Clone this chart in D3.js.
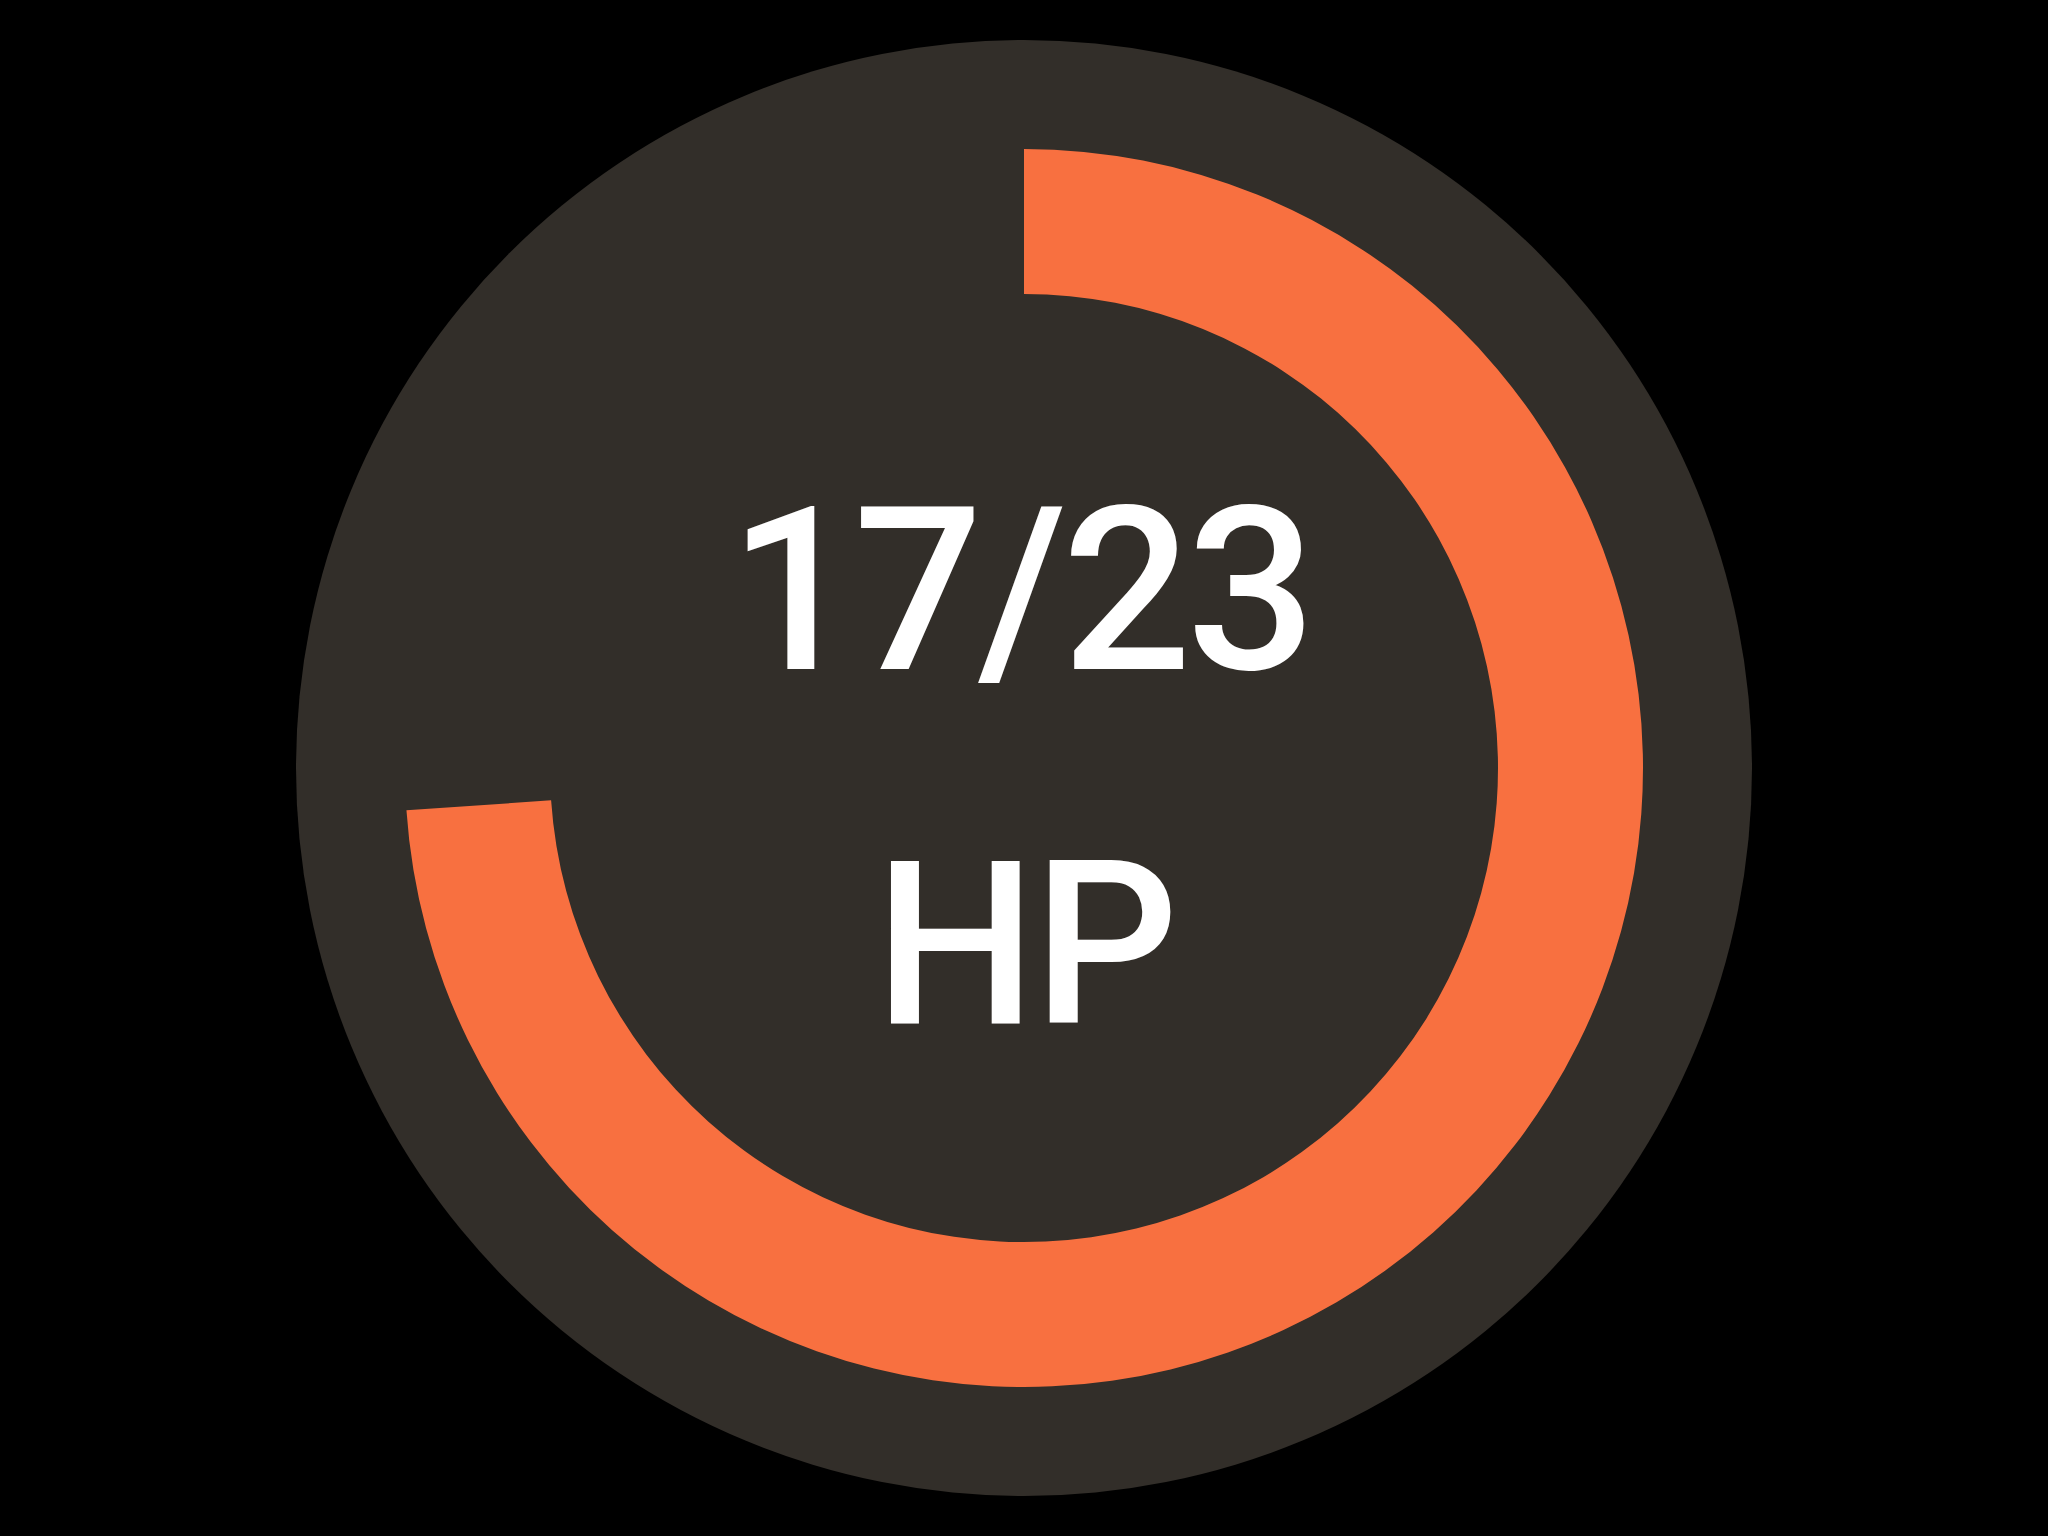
<!DOCTYPE html>
<html>
<head>
<meta charset="utf-8">
<script src="https://cdn.jsdelivr.net/npm/d3@7"></script>
<style>
  html, body { margin: 0; padding: 0; background: #000; }
  svg { display: block; }
</style>
</head>
<body>
<div id="chartDiv"></div>
<script>
// gauge values
var current = [17];
var maximum = [23];
var unitLabel = ["HP"];

;(function() {

	var width = 2048;
	var height = 1536;
	var cx = 1024, cy = 768;

	var discRadius = 728;
	var outerRadius = 619;
	var innerRadius = 474;

	var chart = d3.select("#chartDiv").append("svg")
		.attr("width", width)
		.attr("height", height)
		.style("background", "#000");

	var g = chart.append("g")
		.attr("transform", "translate(" + cx + "," + cy + ")");

	// background disc
	g.append("circle")
		.attr("r", discRadius)
		.attr("fill", "#322e29");

	var angle = d3.scaleLinear()
		.domain([0, maximum[0]])
		.range([0, 2 * Math.PI]);

	var arc = d3.arc()
		.innerRadius(innerRadius)
		.outerRadius(outerRadius)
		.startAngle(0);

	g.selectAll(".value-arc")
		.data(current)
		.enter().append("path")
			.attr("class", "value-arc")
			.attr("d", function(d) { return arc({ endAngle: angle(d) }); })
			.attr("fill", "#f87040");

	// labels
	g.append("text")
		.attr("x", -4)
		.attr("y", -99)
		.attr("text-anchor", "middle")
		.attr("fill", "#fff")
		.style("font-family", "Roboto, 'Noto Sans', sans-serif")
		.style("font-weight", 500)
		.style("font-size", "228px")
		.style("letter-spacing", "-5px")
		.text(current[0] + "/" + maximum[0]);

	g.append("text")
		.attr("x", 1)
		.attr("y", 255)
		.attr("text-anchor", "middle")
		.attr("fill", "#fff")
		.style("font-family", "Roboto, 'Noto Sans', sans-serif")
		.style("font-weight", 500)
		.style("font-size", "228px")
		.style("letter-spacing", "-3px")
		.text(unitLabel[0]);

})();
</script>
</body>
</html>
